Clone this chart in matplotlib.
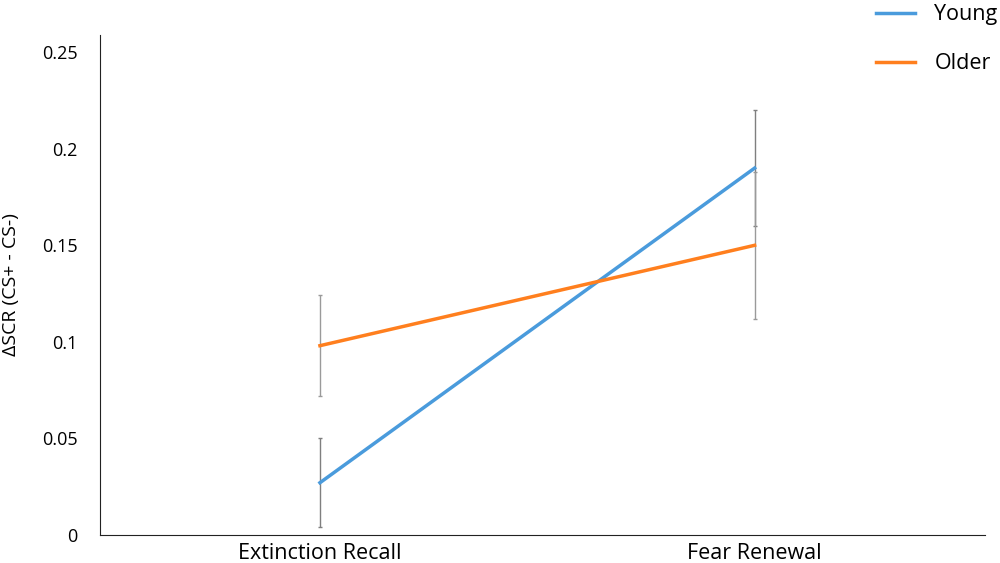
import matplotlib.pyplot as plt

# Data: mean differential SCR per phase and group
phases = ['Extinction Recall', 'Fear Renewal']
young = [0.027, 0.190]
young_err = [0.023, 0.030]
older = [0.098, 0.150]
older_err = [0.026, 0.038]

plt.rcParams['font.family'] = ['Open Sans', 'DejaVu Sans']

fig = plt.figure(figsize=(10, 5.63), dpi=100)
ax = fig.add_axes([0.1, 0.05, 0.885, 0.888])

x = range(len(phases))
ax.errorbar(x, young, yerr=young_err, color='#4A9BDC', lw=2.5,
            ecolor='#7f7f7f', elinewidth=1, capsize=1.2, label='Young', zorder=3)
ax.errorbar(x, older, yerr=older_err, color='#FF7F1E', lw=2.5,
            ecolor='#9a9a9a', elinewidth=1, capsize=1.2, label='Older', zorder=3)

ax.set_xlim(-0.506, 1.53)
ax.set_ylim(0, 0.259)
ax.set_xticks(list(x))
ax.set_xticklabels(phases, fontsize=15.5)
ax.set_yticks([0, 0.05, 0.1, 0.15, 0.2, 0.25])
ax.set_yticklabels(['0', '0.05', '0.1', '0.15', '0.2', '0.25'], fontsize=13)
ax.tick_params(length=0, pad=16)
ax.tick_params(axis='x', pad=6)
ax.set_ylabel('ΔSCR (CS+ - CS-)', fontsize=14, labelpad=16)

for side in ['top', 'right']:
    ax.spines[side].set_visible(False)
for side in ['left', 'bottom']:
    ax.spines[side].set_color('#222222')

# Legend without error bar markers
handles, labels = ax.get_legend_handles_labels()
handles = [h[0] for h in handles]
fig.legend(handles, labels, loc='upper right', bbox_to_anchor=(1.017, 1.027),
           frameon=False, fontsize=15.5, handlelength=1.8, handletextpad=0.9,
           labelspacing=1.3)

plt.savefig('out.png', dpi=100)
